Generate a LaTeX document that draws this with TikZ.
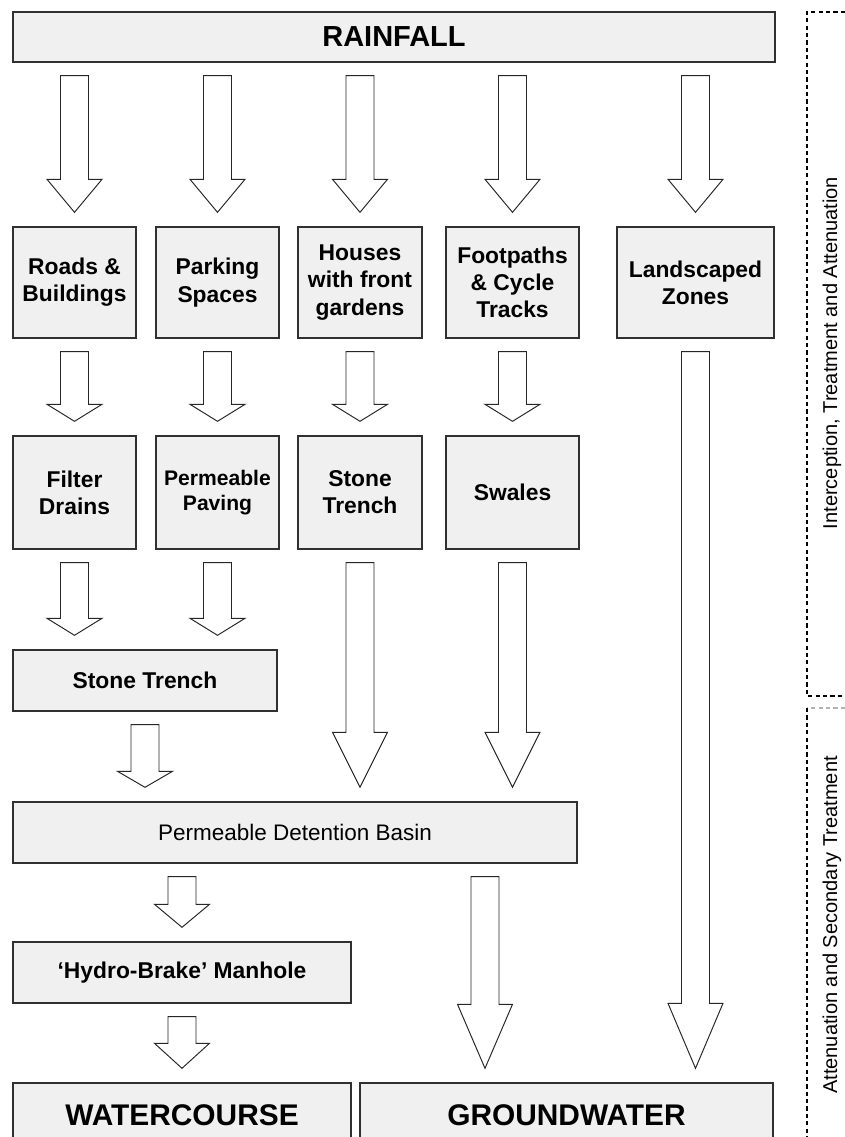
\documentclass[tikz,border=0pt]{standalone}
\usepackage{fontspec}
\setmainfont{Liberation Sans}
\usetikzlibrary{calc,positioning}

\definecolor{boxfill}{HTML}{F0F0F0}
\definecolor{boxline}{HTML}{303030}

\tikzset{
  box/.style={draw=boxline, line width=0.8pt, fill=boxfill, rectangle, align=center, inner sep=2pt,
    font=\fontsize{13}{15.5}\selectfont\bfseries},
  flow/.style={draw=black!85, line width=0.55pt, fill=white, line join=miter},
  sidetext/.style={font=\fontsize{11.4}{13}\selectfont, rotate=90},
  bracket/.style={line width=0.8pt, dash pattern=on 2.4pt off 1.8pt}
}

% hollow block arrow: column node, source node, target node, head length
\newcommand{\flowarrow}[4]{%
  \draw[flow] let \p1=(#1), \p2=(#2.south), \p3=(#3.north) in
    (\x1-0.28cm,\y2-0.26cm) -- (\x1+0.28cm,\y2-0.26cm) -- (\x1+0.28cm,\y3+0.28cm+#4)
    -- (\x1+0.55cm,\y3+0.28cm+#4) -- (\x1,\y3+0.28cm) -- (\x1-0.55cm,\y3+0.28cm+#4)
    -- (\x1-0.28cm,\y3+0.28cm+#4) -- cycle;}

\begin{document}
\begin{tikzpicture}[x=0.02cm, y=-0.02cm]
    \clip (0,0) rectangle (845,1137);

    % Rainfall
    \node [box, minimum width=15.24cm, minimum height=1cm, font=\fontsize{16.5}{18}\selectfont\bfseries] (rain) at (394,37) {RAINFALL};

    % Surfaces
    \node [box, minimum width=2.46cm, minimum height=2.22cm] (roads) at (74.5,282.5) {Roads \&\\Buildings};
    \node [box, minimum width=2.46cm, minimum height=2.22cm] (parking) at (217.5,282.5) {Parking\\Spaces};
    \node [box, minimum width=2.48cm, minimum height=2.22cm] (houses) at (360,282.5) {Houses\\with front\\gardens};
    \node [box, minimum width=2.66cm, minimum height=2.22cm] (foot) at (512.5,282.5) {Footpaths\\\& Cycle\\Tracks};
    \node [box, minimum width=3.14cm, minimum height=2.22cm] (land) at (695.5,282.5) {Landscaped\\Zones};

    % Source control
    \node [box, minimum width=2.46cm, minimum height=2.26cm] (filter) at (74.5,492.5) {Filter\\Drains};
    \node [box, minimum width=2.46cm, minimum height=2.26cm, font=\fontsize{12}{14.5}\selectfont\bfseries] (paving) at (217.5,492.5) {Permeable\\Paving};
    \node [box, minimum width=2.48cm, minimum height=2.26cm] (trenchA) at (360,492.5) {Stone\\Trench};
    \node [box, minimum width=2.66cm, minimum height=2.26cm] (swales) at (512.5,492.5) {Swales};

    % Site control
    \node [box, minimum width=5.28cm, minimum height=1.22cm] (trenchB) at (145,680.5) {Stone Trench};
    \node [box, minimum width=11.28cm, minimum height=1.22cm, font=\fontsize{12.8}{15}\selectfont] (basin) at (295,832.5) {Permeable Detention Basin};
    \node [box, minimum width=6.76cm, minimum height=1.22cm] (hydro) at (182,972.5) {‘Hydro-Brake’ Manhole};

    % Outfalls
    \node [box, minimum width=6.76cm, minimum height=1.28cm, font=\fontsize{17}{19}\selectfont\bfseries] (water) at (182,1115) {WATERCOURSE};
    \node [box, minimum width=8.26cm, minimum height=1.28cm, font=\fontsize{17}{19}\selectfont\bfseries] (ground) at (566.5,1115) {GROUNDWATER};
    \coordinate (gwcol) at (485,950);

    % Flows
    \flowarrow{roads}{rain}{roads}{0.66cm}
    \flowarrow{parking}{rain}{parking}{0.66cm}
    \flowarrow{houses}{rain}{houses}{0.66cm}
    \flowarrow{foot}{rain}{foot}{0.66cm}
    \flowarrow{land}{rain}{land}{0.66cm}

    \flowarrow{roads}{roads}{filter}{0.34cm}
    \flowarrow{parking}{parking}{paving}{0.34cm}
    \flowarrow{houses}{houses}{trenchA}{0.34cm}
    \flowarrow{foot}{foot}{swales}{0.34cm}

    \flowarrow{filter}{filter}{trenchB}{0.34cm}
    \flowarrow{paving}{paving}{trenchB}{0.34cm}
    \flowarrow{trenchA}{trenchA}{basin}{1.1cm}
    \flowarrow{swales}{swales}{basin}{1.1cm}
    \flowarrow{land}{land}{ground}{1.3cm}

    \flowarrow{trenchB}{trenchB}{basin}{0.32cm}
    \flowarrow{hydro}{basin}{hydro}{0.46cm}
    \flowarrow{gwcol}{basin}{ground}{1.28cm}
    \flowarrow{water}{hydro}{water}{0.5cm}

    % Stages
    \draw [bracket] (845,12) -- (807,12) -- (807,696) -- (845,696);
    \draw [bracket, gray!60] (845,708) -- (807,708);
    \draw [bracket] (807,708) -- (807,1140);
    \node [sidetext] (stage1) at (832,353) {Interception, Treatment and Attenuation};
    \node [sidetext] (stage2) at (832,925) {Attenuation and Secondary Treatment};

\end{tikzpicture}
\end{document}
